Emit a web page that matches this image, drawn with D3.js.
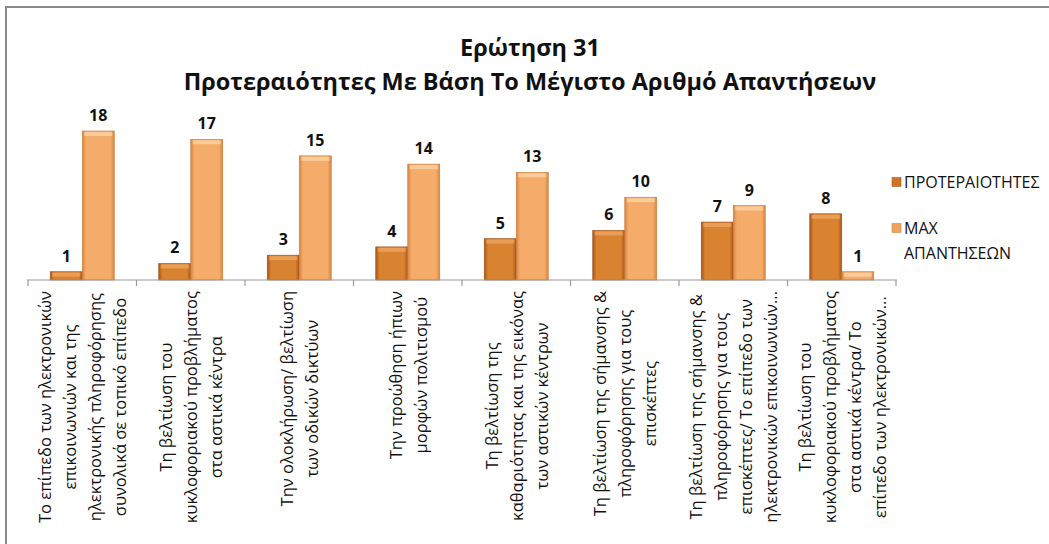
<!DOCTYPE html>
<html>
<head>
<meta charset="utf-8">
<script src="https://cdn.jsdelivr.net/npm/d3@7"></script>
<style>
  html, body { margin: 0; padding: 0; background: #fff; }
  svg text { font-family: "Open Sans", "Noto Sans", sans-serif; fill: #111; }
</style>
</head>
<body>
<div id="chart"></div>
<script>
// categories, one array of wrapped lines per category
var categories = [
  ["Το επίπεδο των ηλεκτρονικών", "επικοινωνιών και της", "ηλεκτρονικής πληροφόρησης", "συνολικά σε τοπικό επίπεδο"],
  ["Τη βελτίωση του", "κυκλοφοριακού προβλήματος", "στα αστικά κέντρα"],
  ["Την ολοκλήρωση/ βελτίωση", "των οδικών δικτύων"],
  ["Την προώθηση ήπιων", "μορφών πολιτισμού"],
  ["Τη βελτίωση της", "καθαριότητας και της εικόνας", "των αστικών κέντρων"],
  ["Τη βελτίωση της σήμανσης &", "πληροφόρησης για τους", "επισκέπτες"],
  ["Τη βελτίωση της σήμανσης &", "πληροφόρησης για τους", "επισκέπτες/ Το επίπεδο των", "ηλεκτρονικών επικοινωνιών..."],
  ["Τη βελτίωση του", "κυκλοφοριακού προβλήματος", "στα αστικά κέντρα/ Το", "επίπεδο των ηλεκτρονικών..."]
];
var priorities = [1, 2, 3, 4, 5, 6, 7, 8];
var maxAnswers = [18, 17, 15, 14, 13, 10, 9, 1];
var seriesNames = ["ΠΡΟΤΕΡΑΙΟΤΗΤΕΣ", ["MAX", "ΑΠΑΝΤΗΣΕΩΝ"]];
var titleLines = ["Ερώτηση 31", "Προτεραιότητες Με Βάση Το Μέγιστο Αριθμό Απαντήσεων"];

var width = 1049, height = 544;
var svg = d3.select("#chart").append("svg")
  .attr("width", width).attr("height", height);

// gradients for the bevelled bars
var defs = svg.append("defs");
function grad(id, edge, mid) {
  var g = defs.append("linearGradient").attr("id", id)
    .attr("x1", "0%").attr("x2", "100%").attr("y1", "0%").attr("y2", "0%");
  g.append("stop").attr("offset", "0%").attr("stop-color", edge);
  g.append("stop").attr("offset", "12%").attr("stop-color", mid);
  g.append("stop").attr("offset", "88%").attr("stop-color", mid);
  g.append("stop").attr("offset", "100%").attr("stop-color", edge);
}
grad("g0", "#a9561a", "#d9822f");
grad("g1", "#d98642", "#f5ab69");
var colors = ["url(#g0)", "url(#g1)"];
var legendColors = ["#cf7425", "#f0a35f"];

// frame
svg.append("rect")
  .attr("x", 6).attr("y", 7).attr("width", 1100).attr("height", 600)
  .attr("fill", "none").attr("stroke", "#8a8a8a").attr("stroke-width", 2);

// title
svg.append("g").selectAll("text").data(titleLines).join("text")
  .attr("x", 530).attr("y", (d, i) => 56 + i * 34)
  .attr("text-anchor", "middle")
  .style("font-size", "23.5px").style("font-weight", "bold")
  .text(d => d);

var baseY = 280;
var x0 = d3.scaleBand().domain(d3.range(categories.length))
  .range([28, 896]).paddingInner(0.41).paddingOuter(0.205);
var x1 = d3.scaleBand().domain([0, 1]).range([0, x0.bandwidth()]);
var y = d3.scaleLinear().domain([0, 18]).range([baseY, 131]);

var groups = svg.append("g").selectAll("g").data(categories).join("g")
  .attr("transform", (d, i) => "translate(" + x0(i) + ",0)");

var bars = groups.selectAll("g.bar")
  .data((d, i) => [priorities[i], maxAnswers[i]])
  .join("g").attr("class", "bar");

bars.append("rect")
  .attr("x", (d, j) => x1(j))
  .attr("y", d => y(d))
  .attr("width", x1.bandwidth())
  .attr("height", d => baseY - y(d))
  .attr("fill", (d, j) => colors[j])
  .attr("stroke", (d, j) => j ? "#c7793a" : "#9a4f17")
  .attr("stroke-width", 0.6);

// top highlight of the bevel
bars.append("rect")
  .attr("x", (d, j) => x1(j) + 2)
  .attr("y", d => y(d) + 1)
  .attr("width", x1.bandwidth() - 4)
  .attr("height", d => Math.min(4, baseY - y(d) - 2))
  .attr("fill", (d, j) => j ? "#fcd3a6" : "#eba560")
  .attr("opacity", 0.8);

bars.append("text")
  .attr("x", (d, j) => x1(j) + x1.bandwidth() / 2)
  .attr("y", d => y(d) - 10)
  .attr("text-anchor", "middle")
  .style("font-size", "16px").style("font-weight", "bold")
  .text(d => d);

// category axis
var axis = svg.append("g").attr("transform", "translate(0," + baseY + ")");
axis.append("line").attr("x1", 27).attr("x2", 897)
  .attr("stroke", "#9a9a9a").attr("stroke-width", 1.2);
var step = x0.step();
axis.selectAll("line.tick").data(d3.range(categories.length + 1)).join("line")
  .attr("class", "tick")
  .attr("x1", i => 28 + i * step).attr("x2", i => 28 + i * step)
  .attr("y1", 0).attr("y2", 6)
  .attr("stroke", "#9a9a9a").attr("stroke-width", 1.2);

// rotated, centred multi-line category labels hanging from the axis
var lineGap = 25;
groups.each(function (lines, i) {
  var g = d3.select(this);
  var cx = x0.bandwidth() / 2;
  var texts = g.selectAll("text.cat").data(lines).join("text")
    .attr("class", "cat")
    .attr("text-anchor", "middle")
    .attr("dominant-baseline", "central")
    .style("font-size", "16.5px")
    .style("font-weight", "500")
    .text(d => d);
  var maxLen = d3.max(texts.nodes(), n => n.getComputedTextLength());
  var cy = 291 + maxLen / 2;
  texts.attr("transform", (d, k) =>
    "translate(" + (cx + (k - (lines.length - 1) / 2) * lineGap) + "," + cy + ") rotate(-90)");
});

// legend
var legend = svg.append("g");
[182, 228].forEach(function (ly, j) {
  legend.append("rect").attr("x", 892).attr("y", ly - 4.5).attr("width", 9).attr("height", 9)
    .attr("fill", legendColors[j]).attr("stroke", j ? "#c7793a" : "#9a4f17").attr("stroke-width", 0.5);
  var names = [].concat(seriesNames[j]);
  names.forEach(function (t, k) {
    legend.append("text").attr("x", 904).attr("y", ly + k * 25)
      .attr("dominant-baseline", "central")
      .style("font-size", "16px")
      .text(t);
  });
});
</script>
</body>
</html>
